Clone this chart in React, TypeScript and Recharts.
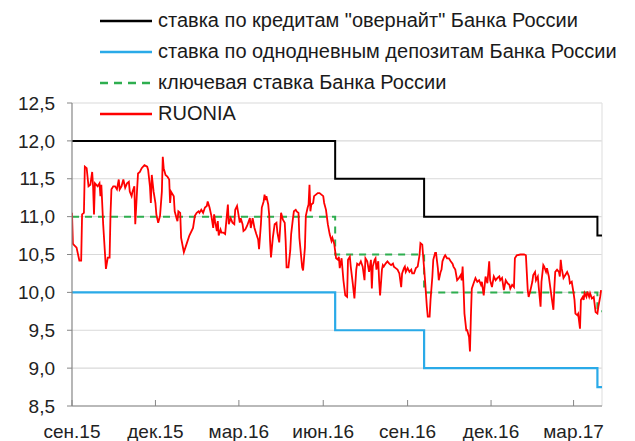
import React from "react";
import {
  LineChart,
  Line,
  XAxis,
  YAxis,
  CartesianGrid,
  ReferenceLine,
} from "recharts";

// days counted from 1 Sep 2015
const tickDays = [0, 91, 182, 274, 366, 457, 547];
const tickLabels = ["сен.15", "дек.15", "мар.16", "июн.16", "сен.16", "дек.16", "мар.17"];
const yTicks = [8.5, 9, 9.5, 10, 10.5, 11, 11.5, 12, 12.5];

const stepDays = [0, 287, 384, 573, 578];
const overnightRate = [12.0, 11.5, 11.0, 10.75, 10.75];
const depositRate = [10.0, 9.5, 9.0, 8.75, 8.75];
const keyRate = [11.0, 10.5, 10.0, 9.75, 9.75];

const ruoniaDays = [
  0, 1, 5, 8, 10, 11, 13, 14, 16, 18, 20, 22, 23, 24, 25, 28, 30, 31, 32, 34, 37, 39, 41, 42, 43,
  45, 47, 49, 51, 52, 54, 56, 58, 60, 62, 63, 65, 66, 68, 69, 71, 72, 74, 76, 79, 82, 83, 85, 86,
  87, 89, 91, 92, 94, 96, 98, 99, 100, 102, 104, 106, 107, 108, 109, 111, 112, 114, 115, 116, 118,
  119, 122, 125, 128, 132, 134, 136, 138, 139, 141, 143, 145, 147, 148, 150, 152, 154, 155, 156,
  158, 159, 160, 162, 163, 165, 167, 168, 170, 171, 173, 175, 177, 178, 180, 181, 183, 184, 186,
  187, 189, 191, 194, 195, 197, 199, 201, 203, 204, 206, 207, 209, 210, 211, 212, 214, 215, 216,
  217, 219, 221, 223, 224, 226, 227, 228, 230, 232, 233, 234, 236, 238, 239, 241, 242, 244, 245,
  247, 248, 250, 251, 252, 254, 255, 257, 258, 259, 260, 261, 263, 264, 266, 268, 270, 272, 274,
  275, 277, 279, 281, 283, 284, 286, 288, 290, 291, 292, 294, 296, 298, 300, 301, 303, 304, 306,
  308, 310, 311, 313, 315, 317, 319, 320, 322, 324, 326, 327, 328, 330, 331, 332, 334, 335, 336,
  338, 339, 340, 342, 344, 346, 348, 350, 351, 353, 355, 357, 359, 360, 362, 363, 364, 366, 368,
  370, 371, 373, 375, 377, 379, 380, 382, 383, 385, 387, 388, 390, 391, 393, 394, 396, 397, 399,
  400, 402, 403, 404, 406, 407, 409, 411, 413, 415, 416, 418, 420, 422, 424, 425, 426, 427, 428,
  430, 431, 433, 434, 435, 436, 438, 440, 442, 444, 446, 447, 449, 451, 453, 455, 456, 458, 460,
  462, 464, 466, 467, 469, 471, 473, 475, 477, 478, 480, 482, 483, 485, 489, 493, 495, 497, 498,
  500, 502, 503, 505, 506, 508, 509, 511, 512, 514, 515, 517, 518, 520, 522, 523, 525, 526, 527,
  529, 531, 532, 533, 534, 536, 538, 540, 542, 543, 545, 547, 548, 549, 551, 552, 554, 555, 557,
  558, 559, 561, 562, 564, 565, 567, 569, 571, 573, 574, 576, 577,
];
const ruoniaValues = [
  11.05, 10.64, 10.59, 10.42, 10.42, 11.03, 11.05, 11.66, 11.64, 11.4, 11.42, 11.59, 11.4, 11.03,
  11.44, 11.4, 11.44, 11.27, 11.42, 10.9, 10.31, 10.46, 10.46, 11.03, 11.36, 11.4, 11.4, 11.36,
  11.49, 11.36, 11.4, 11.49, 11.38, 11.44, 11.46, 11.33, 11.27, 11.33, 11.4, 10.9, 11.36, 11.57,
  11.59, 11.64, 11.68, 11.66, 11.62, 11.4, 11.18, 11.55, 11.33, 11.18, 11.03, 10.92, 11.01, 11.33,
  11.79, 11.64, 11.55, 11.53, 11.49, 11.18, 11.33, 11.31, 11.27, 11.07, 10.98, 10.94, 11.07, 11.05,
  10.72, 10.53, 10.64, 10.75, 10.85, 11.01, 11.05, 11.07, 11.05, 11.09, 11.05, 11.12, 11.14, 11.2,
  11.12, 11.01, 10.85, 11.03, 10.94, 10.81, 10.94, 10.75, 10.83, 10.79, 10.79, 10.77, 10.9, 11.16,
  10.9, 10.98, 10.92, 10.9, 11.09, 11.14, 11.07, 10.92, 10.98, 10.9, 10.81, 10.83, 10.88, 10.98,
  10.85, 10.98, 10.85, 10.77, 10.7, 10.57, 10.9, 11.12, 11.2, 11.29, 11.22, 11.27, 11.16, 11.03,
  10.68, 10.46, 10.72, 10.9, 10.92, 10.79, 10.66, 10.85, 11.05, 10.96, 10.92, 10.68, 10.33, 10.33,
  10.55, 10.77, 10.98, 11.07, 11.09, 11.07, 11.05, 10.72, 10.46, 10.33, 10.29, 10.59, 11.01, 11.12,
  11.16, 11.42, 11.07, 11.16, 11.18, 11.27, 11.29, 11.31, 11.31, 11.29, 11.27, 11.18, 11.09, 10.9,
  10.77, 10.68, 10.72, 10.64, 10.45, 10.43, 10.47, 10.32, 10.45, 10.16, 9.96, 9.94, 10.43, 10.47,
  10.34, 10.14, 9.92, 10.3, 10.38, 10.36, 10.41, 10.34, 10.16, 10.45, 10.41, 10.27, 10.43, 10.05,
  10.34, 10.43, 10.45, 10.3, 10.41, 10.14, 9.96, 10.3, 10.36, 10.34, 10.38, 10.41, 10.38, 10.36,
  10.38, 10.34, 10.32, 10.3, 10.25, 10.07, 10.25, 10.32, 10.34, 10.27, 10.32, 10.27, 10.3, 10.25,
  10.25, 10.32, 10.34, 10.49, 10.65, 10.63, 10.47, 10.16, 9.81, 9.68, 9.68, 9.9, 10.21, 10.43,
  10.52, 10.52, 10.32, 10.16, 10.27, 10.3, 10.41, 10.47, 10.49, 10.45, 10.45, 10.41, 10.38, 10.34,
  10.3, 10.16, 10.19, 10.23, 10.16, 10.34, 10.07, 9.72, 9.5, 9.5, 9.41, 9.22, 9.68, 10.05, 10.12,
  10.19, 10.14, 10.16, 10.1, 10.14, 9.96, 10.21, 10.12, 10.41, 10.16, 10.07, 10.21, 10.16, 10.19,
  10.21, 10.16, 10.19, 10.03, 10.16, 10.12, 10.1, 10.05, 10.1, 10.07, 10.45, 10.49, 10.5, 10.5,
  10.49, 10.03, 9.94, 10.03, 10.14, 10.23, 10.27, 10.16, 10.21, 10.07, 9.81, 10.14, 10.36, 10.34,
  10.27, 10.32, 10.21, 10.03, 9.94, 9.77, 10.05, 10.27, 10.3, 10.27, 10.21, 10.43, 10.32, 10.19,
  10.23, 10.27, 10.21, 10.12, 10.14, 9.99, 9.9, 9.72, 9.7, 9.72, 9.52, 9.9, 9.94, 9.9, 9.99, 9.94,
  10.01, 9.94, 9.99, 9.92, 9.94, 9.74, 9.72, 9.81, 9.94, 10.03,
];

const stepData = stepDays.map((day, i) => ({
  day,
  overnight: overnightRate[i],
  deposit: depositRate[i],
  key: keyRate[i],
}));
const ruoniaData = ruoniaDays.map((day, i) => ({ day, ruonia: ruoniaValues[i] }));

const FONT = '"Liberation Sans", Arial, sans-serif';

const legendItems = [
  { label: 'ставка по кредитам "овернайт" Банка России', color: "#000000", dash: "" },
  { label: "ставка по однодневным депозитам Банка России", color: "#2AAAE8", dash: "" },
  { label: "ключевая ставка Банка России", color: "#2EAE4F", dash: "8 6" },
  { label: "RUONIA", color: "#FF0000", dash: "" },
];

const ChartLegend = () => (
  <div
    style={{
      position: "absolute",
      top: 5,
      left: 100,
      fontFamily: FONT,
      fontSize: 20,
      color: "#1a1a1a",
      pointerEvents: "none",
    }}
  >
    {legendItems.map((item) => (
      <div
        key={item.label}
        style={{ display: "flex", alignItems: "center", height: 31, whiteSpace: "nowrap" }}
      >
        <svg width={54} height={10} style={{ marginRight: 4 }}>
          <line
            x1={0}
            x2={52}
            y1={5}
            y2={5}
            stroke={item.color}
            strokeWidth={2.5}
            strokeDasharray={item.dash}
          />
        </svg>
        <span>{item.label}</span>
      </div>
    ))}
  </div>
);

const XTick = ({ x, y, payload }: any) => {
  const idx = tickDays.indexOf(payload.value);
  return (
    <g>
      <line x1={x} x2={x} y1={y - 6} y2={y} stroke="#868686" strokeWidth={1} />
      <text x={x} y={y + 32} textAnchor="middle" fontSize={19} fontFamily={FONT} fill="#222">
        {idx >= 0 ? tickLabels[idx] : ""}
      </text>
    </g>
  );
};

export default function App() {
  return (
    <div style={{ position: "absolute", left: 0, top: 0, width: 635, height: 441, background: "#fff" }}>
      <LineChart
        width={635}
        height={441}
        margin={{ top: 103, right: 33, bottom: 0, left: 0 }}
      >
        <CartesianGrid vertical={false} stroke="#d9d9d9" strokeWidth={1.2} />
        <ReferenceLine x={578} stroke="#e3e3e3" strokeWidth={1.2} />
        <XAxis
          type="number"
          dataKey="day"
          domain={[0, 578]}
          ticks={tickDays}
          allowDataOverflow
          height={35}
          tickSize={0}
          tickMargin={0}
          tick={<XTick />}
          axisLine={{ stroke: "#868686", strokeWidth: 1.2 }}
          tickLine={false}
          interval={0}
        />
        <YAxis
          type="number"
          domain={[8.5, 12.5]}
          ticks={yTicks}
          width={72}
          tickSize={5}
          tickMargin={12}
          interval={0}
          tickFormatter={(v: number) => v.toFixed(1).replace(".", ",")}
          tick={{ fontSize: 19, fontFamily: FONT, fill: "#222" }}
          axisLine={{ stroke: "#868686", strokeWidth: 1.2 }}
          tickLine={{ stroke: "#868686" }}
        />
        <Line
          data={stepData}
          type="stepAfter"
          dataKey="overnight"
          stroke="#000000"
          strokeWidth={2}
          dot={false}
          isAnimationActive={false}
        />
        <Line
          data={stepData}
          type="stepAfter"
          dataKey="deposit"
          stroke="#2AAAE8"
          strokeWidth={2.2}
          dot={false}
          isAnimationActive={false}
        />
        <Line
          data={stepData}
          type="stepAfter"
          dataKey="key"
          stroke="#2EAE4F"
          strokeWidth={2}
          strokeDasharray="7 6"
          dot={false}
          isAnimationActive={false}
        />
        <Line
          data={ruoniaData}
          type="linear"
          dataKey="ruonia"
          stroke="#FF0000"
          strokeWidth={1.8}
          dot={false}
          isAnimationActive={false}
        />
      </LineChart>
      <ChartLegend />
    </div>
  );
}
